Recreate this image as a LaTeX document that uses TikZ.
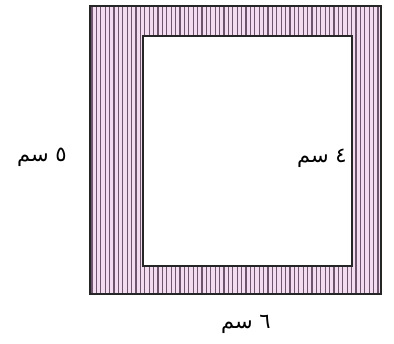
\documentclass[tikz,border=0pt]{standalone}
\usepackage{fontspec}
\newfontfamily\arabicfont[Script=Arabic]{DejaVu Sans}
\TeXXeTstate=1
\definecolor{framepink}{RGB}{244,220,240}
\definecolor{stripe}{RGB}{110,85,110}
\begin{document}
\begin{tikzpicture}[x=1pt,y=-1pt,
  lbl/.style={font=\arabicfont\fontsize{21}{25}\selectfont, inner sep=0pt},
  edge/.style={draw=black!85, line width=1.8pt}]
\useasboundingbox (0,0) rectangle (394,344);
\coordinate (o1) at (90,6);
\coordinate (o2) at (381,294);
\coordinate (i1) at (143,36);
\coordinate (i2) at (352,266);
\fill[framepink] (o1) rectangle (o2);
\begin{scope}
\clip (o1) rectangle (o2);
\foreach \x in {92,96.4,...,381} {
  \draw[stripe, line width=1.2pt] (\x,6) -- (\x,294);
}
\end{scope}
\fill[white] (i1) rectangle (i2);
\draw[edge] (o1) rectangle (o2);
\draw[edge] (i1) rectangle (i2);
\node[lbl] (a) at (42,157) {\beginR ٥ سم\endR};
\node[lbl] (b) at (322,158) {\beginR ٤ سم\endR};
\node[lbl] (c) at (246,324) {\beginR ٦ سم\endR};
\end{tikzpicture}
\end{document}
